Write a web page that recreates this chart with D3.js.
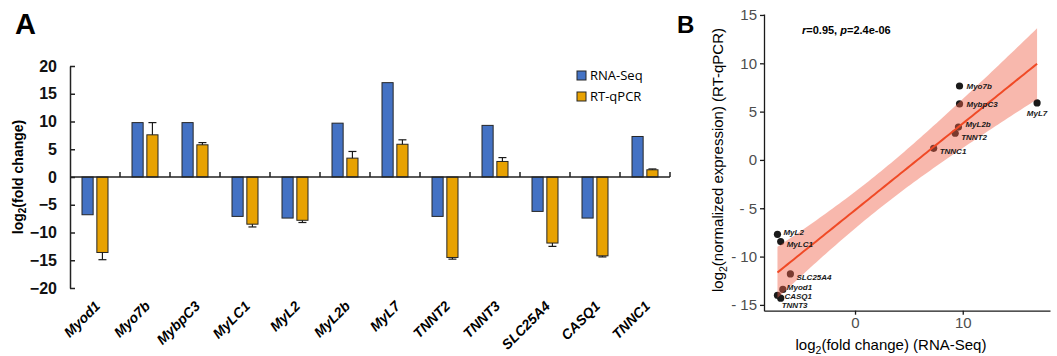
<!DOCTYPE html>
<html lang="en">

<head>
    <meta charset="UTF-8">
    <title>RNA-Seq vs RT-qPCR</title>
    <script src="https://d3js.org/d3.v7.min.js"></script>
    <style>
        body {
            margin: 0;
            background: #fff;
        }

        svg {
            display: block;
        }

        .boldTxt {
            font-family: "Liberation Sans", Arial, sans-serif;
            font-weight: bold;
        }

        .legendText {
            font-family: "Open Sans", sans-serif;
            font-size: 13px;
        }

        .ggTxt {
            font-family: "Liberation Sans", Arial, sans-serif;
        }
    </style>
</head>

<body>
    <svg width="1057" height="356"></svg>

    <script>
        // ---- panel A data (bar chart)
        const genes = ["Myod1", "Myo7b", "MybpC3", "MyLC1", "MyL2", "MyL2b", "MyL7",
            "TNNT2", "TNNT3", "SLC25A4", "CASQ1", "TNNC1"];
        const rnaSeq = [-6.8, 9.8, 9.8, -7.1, -7.4, 9.7, 17.0, -7.1, 9.3, -6.2, -7.4, 7.3];
        const rtqPCR = [-13.6, 7.6, 5.8, -8.5, -7.8, 3.4, 5.9, -14.5, 2.8, -11.9, -14.2, 1.3];
        const rtqPCRErr = [1.3, 2.2, 0.4, 0.5, 0.4, 1.2, 0.8, 0.3, 0.7, 0.6, 0.2, 0.15];
        const seriesNames = ["RNA-Seq", "RT-qPCR"];
        const yTicksA = [-20, -15, -10, -5, 0, 5, 10, 15, 20];

        // ---- panel B data (scatter)
        const scatterGenes = ["Myo7b", "MybpC3", "MyL7", "MyL2b", "TNNT2", "TNNC1",
            "MyL2", "MyLC1", "SLC25A4", "Myod1", "CASQ1", "TNNT3"];
        const scatterX = [9.7, 9.7, 16.9, 9.6, 9.3, 7.3, -7.2, -6.9, -6.0, -6.7, -7.2, -6.9];
        const scatterY = [7.65, 5.8, 5.9, 3.4, 2.76, 1.2, -7.7, -8.45, -11.8, -13.4, -14.0, -14.3];
        const xTicksB = [0, 10];
        const yTicksB = [-15, -10, -5, 0, 5, 10, 15];
        const pValueText = "2.4e-06";

        // label nudges for the scatter (dx, dy, anchor) - like ggrepel did
        const labelNudge = {
            "Myo7b": [7, 3, "start"], "MybpC3": [7, 3, "start"], "MyL7": [0, 13, "middle"],
            "MyL2b": [7, 0, "start"], "TNNT2": [6, 7, "start"], "TNNC1": [6, 5.5, "start"],
            "MyL2": [6, 1, "start"], "MyLC1": [6, 5, "start"], "SLC25A4": [6, 6, "start"],
            "Myod1": [4, 1, "start"], "CASQ1": [7, 4, "start"], "TNNT3": [1, 10, "start"]
        };

        const svg = d3.select("svg");
        const colors = ["#4472c4", "#e8a202"];

        // ================= panel A =================
        const gA = svg.append("g");
        const xA = d3.scaleBand().domain(genes).range([70, 670]);
        const xSub = d3.scaleBand().domain(seriesNames).range([12, 38]).paddingInner(0.25);
        const yA = d3.scaleLinear().domain([-20, 20]).range([288, 66]);

        gA.append("text").attr("class", "boldTxt")
            .attr("x", 15).attr("y", 34).attr("font-size", 29).text("A");

        // bars
        const seriesVals = [rnaSeq, rtqPCR];
        seriesVals.forEach(function (vals, si) {
            gA.append("g").selectAll("rect")
                .data(genes)
                .enter()
                .append("rect")
                .attr("x", (d) => xA(d) + xSub(seriesNames[si]))
                .attr("width", xSub.bandwidth())
                .attr("y", (d, i) => yA(Math.max(0, vals[i])))
                .attr("height", (d, i) => Math.abs(yA(vals[i]) - yA(0)))
                .attr("fill", colors[si])
                .attr("stroke", "#262626")
                .attr("stroke-width", 1);
        });

        // error bars on RT-qPCR (one sided)
        const errG = gA.append("g").attr("stroke", "#1a1a1a").attr("stroke-width", 1.2);
        genes.forEach(function (g, i) {
            const cx = xA(g) + xSub("RT-qPCR") + xSub.bandwidth() / 2;
            const sign = rtqPCR[i] >= 0 ? 1 : -1;
            const y1 = yA(rtqPCR[i]);
            const y2 = yA(rtqPCR[i] + sign * rtqPCRErr[i]);
            errG.append("line").attr("x1", cx).attr("x2", cx).attr("y1", y1).attr("y2", y2);
            errG.append("line").attr("x1", cx - 4).attr("x2", cx + 4).attr("y1", y2).attr("y2", y2);
        });

        // y axis
        const yAxisA = gA.append("g")
            .attr("transform", "translate(70,0)")
            .call(d3.axisLeft(yA).tickValues(yTicksA).tickSize(-5).tickPadding(13).tickSizeOuter(0));
        yAxisA.selectAll("path, line").attr("stroke", "#222").attr("stroke-width", 1.5);
        yAxisA.selectAll("text").attr("class", "boldTxt").attr("font-size", 16).attr("fill", "#111");

        // x axis (at zero)
        const x0 = yA(0);
        gA.append("line").attr("x1", 70).attr("x2", 670).attr("y1", x0).attr("y2", x0)
            .attr("stroke", "#222").attr("stroke-width", 1.5);
        const bounds = genes.map((g) => xA(g)).concat([xA.range()[1]]);
        gA.append("g").selectAll("line")
            .data(bounds.slice(1))
            .enter()
            .append("line")
            .attr("x1", (d) => d).attr("x2", (d) => d)
            .attr("y1", x0).attr("y2", x0 - 5)
            .attr("stroke", "#222").attr("stroke-width", 1.5);

        // category labels
        gA.append("g").selectAll("text")
            .data(genes)
            .enter()
            .append("text")
            .attr("class", "boldTxt")
            .attr("font-size", 14)
            .attr("font-style", "italic")
            .attr("text-anchor", "end")
            .attr("transform", (d) => "translate(" + (xA(d) + xA.bandwidth() / 2 + 6) + ",307) rotate(-45)")
            .text((d) => d);

        // y title
        const yTitleA = gA.append("text").attr("class", "boldTxt")
            .attr("font-size", 14)
            .attr("text-anchor", "middle")
            .attr("transform", "translate(23,177) rotate(-90)");
        yTitleA.append("tspan").text("log");
        yTitleA.append("tspan").attr("font-size", 10).attr("dy", 3).text("2");
        yTitleA.append("tspan").attr("dy", -3).text("(fold change)");

        // legend
        const legend = gA.append("g");
        seriesNames.forEach(function (s, i) {
            legend.append("rect")
                .attr("x", 577).attr("y", 71 + i * 21)
                .attr("width", 9).attr("height", 9)
                .attr("fill", colors[i]).attr("stroke", "#262626");
            legend.append("text").attr("class", "legendText")
                .attr("x", 590).attr("y", 80 + i * 21)
                .text(s);
        });

        // ================= panel B =================
        const gB = svg.append("g");
        const xB = d3.scaleLinear().domain([-8.45, 18.1]).range([764, 1050]);
        const yB = d3.scaleLinear().domain([-15.6, 15.1]).range([310.7, 14]);

        gB.append("text").attr("class", "boldTxt")
            .attr("x", 677).attr("y", 33).attr("font-size", 24).text("B");

        const pts = scatterGenes.map((g, i) => ({ gene: g, x: scatterX[i], y: scatterY[i] }));

        // linear fit + 95% confidence band
        const n = pts.length;
        const mx = d3.mean(pts, (d) => d.x);
        const my = d3.mean(pts, (d) => d.y);
        const sxx = d3.sum(pts, (d) => (d.x - mx) * (d.x - mx));
        const syy = d3.sum(pts, (d) => (d.y - my) * (d.y - my));
        const sxy = d3.sum(pts, (d) => (d.x - mx) * (d.y - my));
        const slope = sxy / sxx;
        const icpt = my - slope * mx;
        const rVal = sxy / Math.sqrt(sxx * syy);
        const sRes = Math.sqrt((syy - slope * sxy) / (n - 2));
        const tCrit = 2.228; // t(0.975, df = 10)
        const [xmin, xmax] = d3.extent(pts, (d) => d.x);
        const fit = d3.range(0, 81).map(function (k) {
            const xv = xmin + (xmax - xmin) * k / 80;
            const yv = icpt + slope * xv;
            const se = sRes * Math.sqrt(1 / n + (xv - mx) * (xv - mx) / sxx);
            return { x: xv, y: yv, lo: yv - tCrit * se, hi: yv + tCrit * se };
        });

        // points (drawn below the ribbon)
        gB.append("g").selectAll("circle")
            .data(pts)
            .enter()
            .append("circle")
            .attr("cx", (d) => xB(d.x))
            .attr("cy", (d) => yB(d.y))
            .attr("r", 3.6)
            .attr("fill", "#1a1a1a");

        gB.append("path")
            .datum(fit)
            .attr("d", d3.area().x((d) => xB(d.x)).y0((d) => yB(d.lo)).y1((d) => yB(d.hi)))
            .attr("fill", "#f0614a")
            .attr("fill-opacity", 0.45);

        gB.append("path")
            .datum(fit)
            .attr("d", d3.line().x((d) => xB(d.x)).y((d) => yB(d.y)))
            .attr("fill", "none")
            .attr("stroke", "#f04a26")
            .attr("stroke-width", 2);

        gB.append("g").selectAll("text")
            .data(pts)
            .enter()
            .append("text")
            .attr("class", "boldTxt")
            .attr("font-size", 8)
            .attr("font-style", "italic")
            .attr("fill", "#1a1a1a")
            .attr("x", (d) => xB(d.x) + labelNudge[d.gene][0])
            .attr("y", (d) => yB(d.y) + labelNudge[d.gene][1])
            .attr("text-anchor", (d) => labelNudge[d.gene][2])
            .text((d) => d.gene);

        // axes
        const yAxisB = gB.append("g")
            .attr("transform", "translate(764,0)")
            .call(d3.axisLeft(yB).tickValues(yTicksB).tickSize(4).tickPadding(3).tickSizeOuter(0)
                .tickFormat((d) => d < 0 ? "- " + Math.abs(d) : d));
        const xAxisB = gB.append("g")
            .attr("transform", "translate(0,310.7)")
            .call(d3.axisBottom(xB).tickValues(xTicksB).tickSize(4).tickPadding(3).tickSizeOuter(0));
        [yAxisB, xAxisB].forEach(function (ax) {
            ax.selectAll("path, line").attr("stroke", "#1a1a1a").attr("stroke-width", 1.3);
            ax.selectAll("text").attr("class", "ggTxt").attr("font-size", 15).attr("fill", "#4d4d4d");
        });

        const xTitleB = gB.append("text").attr("class", "ggTxt")
            .attr("font-size", 15).attr("text-anchor", "middle")
            .attr("x", 891).attr("y", 350);
        xTitleB.append("tspan").text("log");
        xTitleB.append("tspan").attr("font-size", 10.5).attr("dy", 4).text("2");
        xTitleB.append("tspan").attr("dy", -4).text("(fold change) (RNA-Seq)");

        const yTitleB = gB.append("text").attr("class", "ggTxt")
            .attr("font-size", 15).attr("text-anchor", "middle")
            .attr("transform", "translate(723,160) rotate(-90)");
        yTitleB.append("tspan").text("log");
        yTitleB.append("tspan").attr("font-size", 10.5).attr("dy", 4).text("2");
        yTitleB.append("tspan").attr("dy", -4).text("(normalized expression) (RT-qPCR)");

        // correlation annotation
        const ann = gB.append("text").attr("class", "boldTxt")
            .attr("font-size", 11).attr("x", 802).attr("y", 34);
        ann.append("tspan").attr("font-style", "italic").text("r");
        ann.append("tspan").text("=" + rVal.toFixed(2) + ", ");
        ann.append("tspan").attr("font-style", "italic").text("p");
        ann.append("tspan").text("=" + pValueText);
    </script>
</body>

</html>
